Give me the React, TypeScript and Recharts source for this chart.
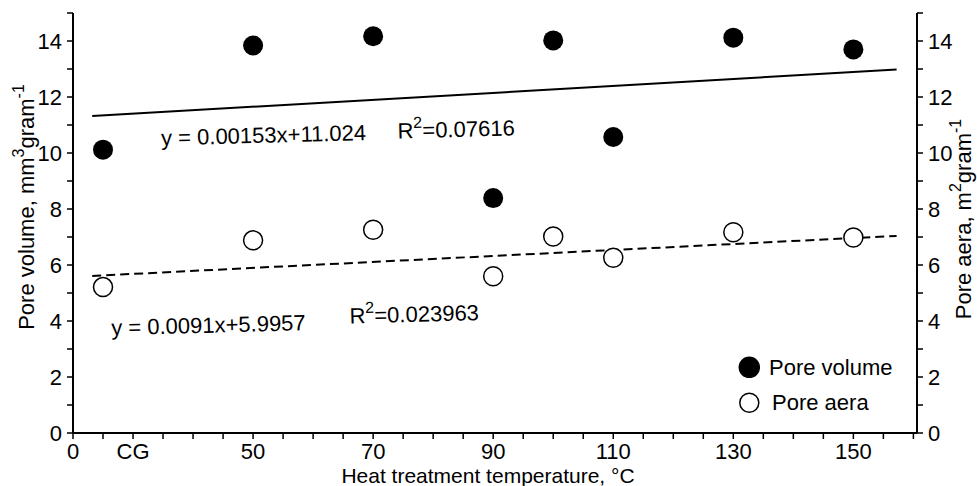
import React from "react";
import {
  ComposedChart,
  Scatter,
  Line,
  XAxis,
  YAxis,
  ReferenceDot,
  Legend,
} from "recharts";

// heat treatment temperature (CG sits at 25 on the shared scale)
const temperatures = [25, 50, 70, 90, 100, 110, 130, 150];
const poreVolume = [10.12, 13.84, 14.17, 8.39, 14.02, 10.57, 14.12, 13.7];
const poreArea = [5.21, 6.88, 7.26, 5.6, 7.02, 6.26, 7.17, 6.98];

// linear fit end points
const trendX = [23.2, 157.2];
const volumeTrend = [11.32, 12.98];
const areaTrend = [5.61, 7.04];

const xTicks = [
  20, 25, 30, 35, 40, 45, 50, 55, 60, 65, 70, 75, 80, 85, 90, 95, 100, 105,
  110, 115, 120, 125, 130, 135, 140, 145, 150, 155, 160,
];
const xTickLabels: Record<number, string> = {
  20: "0",
  30: "CG",
  50: "50",
  70: "70",
  90: "90",
  110: "110",
  130: "130",
  150: "150",
};
const yTicks = [0, 1, 2, 3, 4, 5, 6, 7, 8, 9, 10, 11, 12, 13, 14, 15];
const yTickLabels = [0, 2, 4, 6, 8, 10, 12, 14];

type Equation = { x: number; y: number; text?: string; r2?: string };
const equations: Equation[] = [
  { x: 34.7, y: 10.27, text: "y = 0.00153x+11.024" },
  { x: 74.1, y: 10.52, r2: "0.07616" },
  { x: 26.4, y: 3.49, text: "y = 0.0091x+5.9957" },
  { x: 66.1, y: 3.91, r2: "0.023963" },
];

const volumeData = temperatures.map((t, i) => ({ x: t, y: poreVolume[i] }));
const areaData = temperatures.map((t, i) => ({ x: t, y: poreArea[i] }));
const volumeTrendData = trendX.map((t, i) => ({ x: t, y: volumeTrend[i] }));
const areaTrendData = trendX.map((t, i) => ({ x: t, y: areaTrend[i] }));

const FONT = "'Liberation Sans', Arial, sans-serif";
const FS = 22;

const renderXTick = (props: any) => {
  const { x, y, payload } = props;
  const label = xTickLabels[payload.value];
  if (!label) return <g />;
  return (
    <text x={x} y={y + 17.5} textAnchor="middle" fontSize={FS} fontFamily={FONT} fill="#000">
      {label}
    </text>
  );
};

const renderLeftTick = (props: any) => {
  const { x, y, payload } = props;
  if (!yTickLabels.includes(payload.value)) return <g />;
  return (
    <text x={x - 3} y={y + 7.5} textAnchor="end" fontSize={FS} fontFamily={FONT} fill="#000">
      {payload.value}
    </text>
  );
};

const renderRightTick = (props: any) => {
  const { x, y, payload } = props;
  if (!yTickLabels.includes(payload.value)) return <g />;
  return (
    <text x={x + 3} y={y + 7.5} textAnchor="start" fontSize={FS} fontFamily={FONT} fill="#000">
      {payload.value}
    </text>
  );
};

const filledDot = (props: any) => (
  <circle cx={props.cx} cy={props.cy} r={10} fill="#000" />
);
const openDot = (props: any) => (
  <circle cx={props.cx} cy={props.cy} r={9.5} fill="#fff" stroke="#000" strokeWidth={1.5} />
);

const renderEquation = (eq: Equation) => (props: any) => {
  const { x, y } = props.viewBox;
  return (
    <text
      x={x}
      y={y}
      transform={`rotate(-1.5 ${x} ${y})`}
      fontSize={FS}
      fontFamily={FONT}
      fill="#000"
    >
      {eq.text ? (
        eq.text
      ) : (
        <>
          <tspan>R</tspan>
          <tspan dy={-10} fontSize={16}>2</tspan>
          <tspan dy={10}>={eq.r2}</tspan>
        </>
      )}
    </text>
  );
};

const leftTitle = (props: any) => {
  const cx = 33.5;
  const cy = 207;
  return (
    <text
      x={cx}
      y={cy}
      transform={`rotate(-90 ${cx} ${cy})`}
      textAnchor="middle"
      fontSize={FS}
      fontFamily={FONT}
      fill="#000"
    >
      <tspan>Pore volume, mm</tspan>
      <tspan dy={-10} fontSize={16}>3</tspan>
      <tspan dy={10}>gram</tspan>
      <tspan dy={-10} fontSize={16}>-1</tspan>
    </text>
  );
};

const rightTitle = (props: any) => {
  const cx = 971;
  const cy = 219;
  return (
    <text
      x={cx}
      y={cy}
      transform={`rotate(-90 ${cx} ${cy})`}
      textAnchor="middle"
      fontSize={FS}
      fontFamily={FONT}
      fill="#000"
    >
      <tspan>Pore aera, m</tspan>
      <tspan dy={-10} fontSize={16}>2</tspan>
      <tspan dy={10}>gram</tspan>
      <tspan dy={-10} fontSize={16}>-1</tspan>
    </text>
  );
};

const xTitle = (props: any) => (
  <text x={488} y={483} textAnchor="middle" fontSize={21} fontFamily={FONT} fill="#000">
    Heat treatment temperature, °C
  </text>
);

const legendItems = [
  { name: "Pore volume", fill: "#000", r: 10, tx: 33 },
  { name: "Pore aera", fill: "#fff", r: 9.5, tx: 36 },
];

const renderLegend = () => (
  <svg width={180} height={70} style={{ display: "block" }}>
    {legendItems.map((item, i) => {
      const cy = 15.3 + i * 35.4;
      return (
        <g key={item.name}>
          <circle cx={13.3} cy={cy} r={item.r} fill={item.fill} stroke="#000" strokeWidth={1.5} />
          <text x={item.tx} y={cy + 7.5} fontSize={FS} fontFamily={FONT} fill="#000">
            {item.name}
          </text>
        </g>
      );
    })}
  </svg>
);

export default function App() {
  return (
    <div style={{ position: "absolute", left: 0, top: 0, width: 977, height: 486, background: "#fff" }}>
      <ComposedChart
        width={977}
        height={486}
        margin={{ top: 13, right: 0, bottom: 0, left: 0 }}
      >
        <XAxis
          type="number"
          dataKey="x"
          domain={[20, 160.6]}
          allowDataOverflow
          ticks={xTicks}
          interval={0}
          tick={renderXTick}
          tickSize={6}
          tickLine={{ stroke: "#000", strokeWidth: 1.5 }}
          axisLine={{ stroke: "#000", strokeWidth: 2 }}
          height={53}
          label={xTitle}
        />
        <YAxis
          yAxisId="left"
          dataKey="y"
          type="number"
          domain={[0, 15]}
          ticks={yTicks}
          interval={0}
          tick={renderLeftTick}
          tickSize={6}
          tickLine={{ stroke: "#000", strokeWidth: 1.5 }}
          axisLine={{ stroke: "#000", strokeWidth: 2 }}
          width={73}
          label={leftTitle}
        />
        <YAxis
          yAxisId="right"
          orientation="right"
          dataKey="y"
          type="number"
          domain={[0, 15]}
          ticks={yTicks}
          interval={0}
          tick={renderRightTick}
          tickSize={6}
          tickLine={{ stroke: "#000", strokeWidth: 1.5 }}
          axisLine={{ stroke: "#000", strokeWidth: 2 }}
          width={60}
          label={rightTitle}
        />
        <Line
          data={volumeTrendData}
          dataKey="y"
          yAxisId="left"
          type="linear"
          stroke="#000"
          strokeWidth={2}
          dot={false}
          activeDot={false}
          isAnimationActive={false}
        />
        <Line
          data={areaTrendData}
          dataKey="y"
          yAxisId="right"
          type="linear"
          stroke="#000"
          strokeWidth={2}
          strokeDasharray="9 5"
          dot={false}
          activeDot={false}
          isAnimationActive={false}
        />
        <Scatter
          name="Pore volume"
          data={volumeData}
          yAxisId="left"
          shape={filledDot}
          isAnimationActive={false}
        />
        <Scatter
          name="Pore aera"
          data={areaData}
          yAxisId="right"
          shape={openDot}
          isAnimationActive={false}
        />
        {equations.map((eq, i) => (
          <ReferenceDot
            key={i}
            x={eq.x}
            y={eq.y}
            yAxisId="left"
            r={0}
            fill="none"
            stroke="none"
            label={renderEquation(eq)}
          />
        ))}
        <Legend
          layout="horizontal"
          verticalAlign="middle"
          align="center"
          wrapperStyle={{ left: 736, top: 352, width: 180, height: 70 }}
          content={renderLegend}
        />
      </ComposedChart>
    </div>
  );
}
